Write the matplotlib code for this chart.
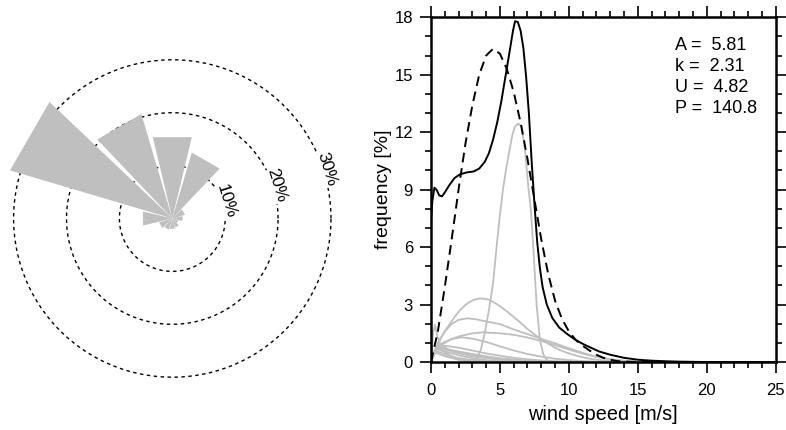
import numpy as np
import matplotlib
matplotlib.use("Agg")
import matplotlib.pyplot as plt
from matplotlib.ticker import MultipleLocator

plt.rcParams['font.family'] = ['Liberation Sans', 'DejaVu Sans']

# wind rose: sector direction (deg from north, clockwise) and frequency (%)
directions = [0, 30, 60, 90, 120, 150, 180, 210, 240, 270, 300, 330]
dir_freq = [15.8, 13.0, 2.5, 2.0, 1.2, 1.8, 2.0, 2.2, 2.6, 5.7, 32.0, 20.6]
ring_levels = [10, 20, 30]

# observed distribution (solid black)
obs_v = [0, 0.1, 0.25, 0.4, 0.6, 0.8, 1.0, 1.3, 1.7, 2.1, 2.6, 3.1, 3.5, 3.9, 4.2,
         4.5, 4.8, 5.1, 5.4, 5.7, 5.95, 6.1, 6.3, 6.5, 6.7, 6.9, 7.1, 7.3, 7.5,
         7.7, 7.9, 8.1, 8.4, 8.8, 9.3, 9.9, 10.5, 11.0, 11.5, 12.2, 13, 14, 15,
         16, 17, 18, 19, 20, 25]
obs_f = [7.4, 8.4, 9.1, 9.0, 8.7, 8.65, 8.85, 9.2, 9.6, 9.8, 9.9, 9.95, 10.1, 10.45,
         10.9, 11.6, 12.5, 13.6, 14.9, 16.2, 17.3, 17.8, 17.75, 17.3, 16.4, 14.9,
         13.0, 10.5, 8.3, 6.3, 4.9, 3.9, 3.0, 2.3, 1.8, 1.45, 1.15, 0.95, 0.78,
         0.55, 0.38, 0.22, 0.12, 0.07, 0.04, 0.02, 0.01, 0.0, 0.0]

# Weibull fit (dashed)
fit_v = [0, 0.5, 1, 1.5, 2, 2.5, 3, 3.5, 4, 4.5, 5, 5.5, 6, 6.5, 7, 7.5, 8, 8.5,
         9, 9.5, 10, 10.5, 11, 11.5, 12, 12.5, 13, 13.5, 14, 15, 16]
fit_f = [0, 1.6, 3.9, 6.4, 9.0, 11.4, 13.4, 15.0, 16.0, 16.35, 16.1, 15.3, 14.1,
         12.5, 10.6, 8.5, 6.4, 4.6, 3.2, 2.25, 1.6, 1.15, 0.85, 0.6, 0.38, 0.22,
         0.12, 0.05, 0.02, 0, 0]

# per-sector distributions (grey)
g1_v = [0, 0.4, 1, 1.5, 2, 2.5, 3, 3.3, 3.6, 3.9, 4.2, 4.5, 4.8, 5.0, 5.24, 5.5,
        5.73, 5.9, 6.09, 6.33, 6.58, 6.82, 7.06, 7.25, 7.42, 7.66, 7.9, 8.15, 8.4, 8.8]
g1_f = [0, 0.75, 0.5, 0.3, 0.13, 0.05, 0.06, 0.18, 0.6, 1.5, 2.7, 4.1, 6.3, 7.7,
        9.1, 10.3, 11.2, 11.85, 12.29, 12.45, 12.3, 11.07, 9.15, 7.9, 6.0, 3.0,
        1.15, 0.4, 0.1, 0]
g2_v = [0, 0.3, 0.65, 1, 1.38, 1.7, 2.1, 2.5, 2.83, 3.2, 3.55, 3.9, 4.28, 4.6, 5.0,
        5.5, 5.97, 6.5, 6.94, 7.4, 7.9, 8.4, 8.87, 9.3, 9.84, 10.5, 11.05, 11.6,
        12.25, 13, 13.5, 14.5]
g2_f = [0, 0.6, 1.15, 1.6, 2.0, 2.35, 2.7, 2.98, 3.15, 3.27, 3.32, 3.3, 3.24, 3.1,
        2.92, 2.65, 2.37, 2.05, 1.76, 1.5, 1.24, 1.0, 0.8, 0.64, 0.49, 0.34, 0.24,
        0.16, 0.1, 0.05, 0.02, 0]
g3_v = [0, 0.5, 1, 1.5, 2, 2.6, 3.2, 4, 5, 6, 7.4, 8.2, 9, 10, 11, 12, 13, 14, 15]
g3_f = [0, 1.0, 1.6, 1.98, 2.2, 2.28, 2.24, 2.12, 1.98, 1.7, 1.36, 1.16, 0.98,
        0.72, 0.48, 0.28, 0.14, 0.05, 0]
g4_v = [0, 0.4, 1, 1.5, 2, 3, 3.8, 5, 6, 7, 8, 9, 10, 11, 12, 13, 14, 15, 16]
g4_f = [0, 0.75, 1.0, 1.2, 1.33, 1.5, 1.55, 1.5, 1.42, 1.28, 1.1, 0.88, 0.65,
        0.44, 0.27, 0.15, 0.07, 0.02, 0]
g5_v = [0, 0.4, 1, 1.5, 2.2, 3, 4, 5, 6, 7, 8, 9, 10, 11, 12, 13]
g5_f = [0, 0.8, 1.05, 1.2, 1.29, 1.22, 1.05, 0.82, 0.6, 0.42, 0.28, 0.17, 0.1,
        0.05, 0.02, 0]
g6_v = [0, 0.15, 0.3, 0.45, 0.7, 1.5, 3, 5, 7, 9]
g6_f = [0, 1.5, 1.95, 1.4, 0.9, 0.55, 0.3, 0.12, 0.04, 0]
g7_v = [0, 0.4, 1, 2, 3, 4, 5, 6, 7, 8, 9, 10, 11]
g7_f = [0, 0.85, 0.85, 0.75, 0.6, 0.45, 0.33, 0.22, 0.14, 0.08, 0.04, 0.02, 0]
g8_v = [0, 0.4, 1, 2, 3, 4, 5, 6, 7, 8, 9, 10]
g8_f = [0, 0.8, 0.7, 0.55, 0.42, 0.3, 0.2, 0.13, 0.08, 0.04, 0.02, 0]
g9_v = [0, 0.4, 1, 2, 3, 4, 5, 6, 7, 8, 9]
g9_f = [0, 0.75, 0.65, 0.48, 0.33, 0.22, 0.14, 0.08, 0.04, 0.02, 0]
g10_v = [0, 0.35, 1, 2, 3, 4, 5, 6, 7]
g10_f = [0, 0.7, 0.55, 0.35, 0.2, 0.1, 0.05, 0.02, 0]
g11_v = [0, 0.3, 1, 2, 3, 4, 5]
g11_f = [0, 0.6, 0.4, 0.2, 0.1, 0.05, 0]
g12_v = [0, 0.3, 1, 2, 3, 4]
g12_f = [0, 0.5, 0.3, 0.12, 0.04, 0]

fit_labels = ["A =  5.81", "k =  2.31", "U =  4.82", "P =  140.8"]

grey = "#bfbfbf"

fig = plt.figure(figsize=(7.86, 4.30), dpi=100)

# ---- wind rose ----
ax_l = fig.add_axes([0, 0, 345 / 786, 1])
ax_l.set_xlim(-32.57, 32.65)
ax_l.set_ylim(-39.98, 41.3)
ax_l.axis("off")

t = np.linspace(0, 2 * np.pi, 361)
for r in ring_levels:
    ax_l.plot(r * np.cos(t), r * np.sin(t), color="black", lw=1.0,
              linestyle=(0, (2.5, 2.5)), zorder=1)

half = np.radians(13.5)
for d, f in zip(directions, dir_freq):
    b = np.radians(d)
    xs = [0, f * np.sin(b - half), f * np.sin(b + half)]
    ys = [0, f * np.cos(b - half), f * np.cos(b + half)]
    ax_l.fill(xs, ys, color=grey, lw=0, zorder=2)

lab_ang = np.radians(17.5)
for r in ring_levels:
    ax_l.text((r + 0.7) * np.cos(lab_ang), (r + 0.7) * np.sin(lab_ang), f"{r}%",
              rotation=-72.5, rotation_mode="anchor", ha="center", va="center",
              fontsize=12.5, zorder=3,
              bbox=dict(facecolor="white", edgecolor="none", pad=0.2))

# ---- speed distribution ----
ax = fig.add_axes([0.5483, 0.1581, 0.4386, 0.8017])
grey_curves = [(g1_v, g1_f), (g2_v, g2_f), (g3_v, g3_f), (g4_v, g4_f),
               (g5_v, g5_f), (g6_v, g6_f), (g7_v, g7_f), (g8_v, g8_f),
               (g9_v, g9_f), (g10_v, g10_f), (g11_v, g11_f), (g12_v, g12_f)]
for v, f in grey_curves:
    ax.plot(v, f, color=grey, lw=1.3)

ax.plot(fit_v, fit_f, color="black", lw=1.4, linestyle=(0, (5, 3)))
ax.plot(obs_v, obs_f, color="black", lw=1.4)

ax.set_xlim(0, 25)
ax.set_ylim(0, 18)
ax.xaxis.set_major_locator(MultipleLocator(5))
ax.xaxis.set_minor_locator(MultipleLocator(1))
ax.yaxis.set_major_locator(MultipleLocator(3))
ax.yaxis.set_minor_locator(MultipleLocator(1))
ax.tick_params(which="both", direction="out", top=True, right=True, width=1.2,
               labelsize=12)
ax.tick_params(which="major", length=8)
ax.tick_params(which="minor", length=4.5)
ax.tick_params(axis="x", which="major", pad=7)
ax.tick_params(axis="y", which="major", pad=5)
for s in ax.spines.values():
    s.set_linewidth(1.8)

ax.set_xlabel("wind speed [m/s]", fontsize=14.3)
ax.set_ylabel("frequency [%]", fontsize=14)
ax.xaxis.set_label_coords(0.5, -0.151)
ax.xaxis.label.set_verticalalignment("center")
ax.yaxis.set_label_coords(-0.137, 0.5)
ax.yaxis.label.set_verticalalignment("center")

for i, s in enumerate(fit_labels):
    ax.text(0.708, 0.905 - i * 0.0609, s, transform=ax.transAxes,
            fontsize=13, ha="left", va="baseline")

fig.savefig("out.png", dpi=100)
